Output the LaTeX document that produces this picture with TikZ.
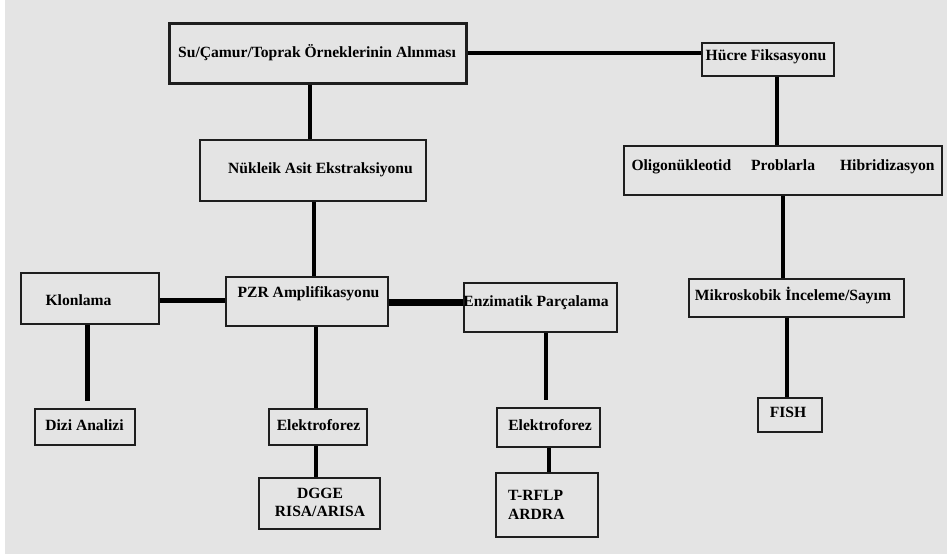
\documentclass[tikz,border=0pt]{standalone}
\usepackage{fontspec}
\setmainfont{Liberation Serif}
\definecolor{bgc}{HTML}{E4E4E4}
\definecolor{boxc}{HTML}{1E1E1E}
\begin{document}
\begin{tikzpicture}[x=1pt,y=-1pt,
  box/.style={draw=boxc, line width=2pt, rectangle, inner sep=0pt},
  conn/.style={line width=4.5pt, draw=black},
  lbl/.style={font=\bfseries\fontsize{15.6}{17}\selectfont, inner sep=0pt, text=black}]
\fill[white] (0,0) rectangle (947,557);
\fill[bgc] (5,0) rectangle (947,554);
\useasboundingbox (0,0) rectangle (947,557);
% boxes
\node[box, line width=3pt, minimum width=297pt, minimum height=60pt] (top) at (317.5,53) {};
\node[box, minimum width=132pt, minimum height=33pt] (hf) at (768,59.5) {};
\node[box, minimum width=226pt, minimum height=61pt] (nuk) at (313,170.5) {};
\node[box, minimum width=318pt, minimum height=49pt] (oli) at (783,170.5) {};
\node[box, minimum width=138pt, minimum height=51pt] (klon) at (90,298.5) {};
\node[box, minimum width=162pt, minimum height=49pt] (pzr) at (307,301.5) {};
\node[box, minimum width=153pt, minimum height=49pt] (enz) at (540.5,307.5) {};
\node[box, minimum width=215pt, minimum height=38pt] (mik) at (796.5,298) {};
\node[box, minimum width=100pt, minimum height=36pt] (dizi) at (85,427) {};
\node[box, minimum width=98pt, minimum height=36pt] (el1) at (318,427) {};
\node[box, minimum width=103pt, minimum height=39pt] (el2) at (548.5,427.5) {};
\node[box, minimum width=121pt, minimum height=51pt] (dgge) at (319.5,503.5) {};
\node[box, minimum width=102pt, minimum height=64pt] (trf) at (547,505) {};
\node[box, minimum width=64pt, minimum height=34pt] (fish) at (790,415) {};
% texts
\node[lbl] (ttop) at (317,53) {Su/Çamur/Toprak Örneklerinin Alınması};
\node[lbl] (thf) at (766,57) {Hücre Fiksasyonu};
\node[lbl, anchor=west] (tnuk) at (228,170) {Nükleik Asit Ekstraksiyonu};
\node[lbl] (toli) at (783,167) {Oligonükleotid\hspace{20pt}Problarla\hspace{25pt}Hibridizasyon};
\node[lbl] (tklon) at (78.5,300) {Klonlama};
\node[lbl] (tpzr) at (308.5,294) {PZR Amplifikasyonu};
\node[lbl] (tenz) at (536,303) {Enzimatik Parçalama};
\node[lbl] (tmik) at (793,295) {Mikroskobik İnceleme/Sayım};
\node[lbl] (tdizi) at (84.5,425) {Dizi Analizi};
\node[lbl] (tel1) at (318.5,425) {Elektroforez};
\node[lbl] (tel2) at (550,425) {Elektroforez};
\node[lbl, align=center] (tdgge) at (320,502.5) {DGGE\\[1pt]RISA/ARISA};
\node[lbl, align=left, anchor=west] (ttrf) at (508,505) {T-RFLP\\[2pt]ARDRA};
\node[lbl] (tfish) at (788,412) {FISH};
% connector columns
\coordinate (cA) at (310,0);
\coordinate (cB) at (314,0);
\coordinate (cC) at (316,0);
\coordinate (cD) at (777,0);
\coordinate (cE) at (783,0);
\coordinate (cF) at (787,0);
\coordinate (cG) at (87.5,0);
\coordinate (cH) at (546,0);
\coordinate (cI) at (549,0);
\coordinate (rA) at (0,53);
\coordinate (rB) at (0,300.5);
\coordinate (rC) at (0,302.5);
% connectors
\draw[conn] (top.east |- rA) -- (hf.west |- rA);
\draw[conn] (top.south -| cA) -- (nuk.north -| cA);
\draw[conn] (nuk.south -| cB) -- (pzr.north -| cB);
\draw[conn] (pzr.south -| cC) -- (el1.north -| cC);
\draw[conn] (el1.south -| cC) -- (dgge.north -| cC);
\draw[conn] (klon.east |- rB) -- (pzr.west |- rB);
\draw[conn, line width=6.5pt] (pzr.east |- rC) -- (enz.west |- rC);
\draw[conn, shorten >=7pt] (klon.south -| cG) -- (dizi.north -| cG);
\draw[conn, shorten >=7pt] (enz.south -| cH) -- (el2.north -| cH);
\draw[conn] (el2.south -| cI) -- (trf.north -| cI);
\draw[conn] (hf.south -| cD) -- (oli.north -| cD);
\draw[conn] (oli.south -| cE) -- (mik.north -| cE);
\draw[conn] (mik.south -| cF) -- (fish.north -| cF);
\end{tikzpicture}
\end{document}
